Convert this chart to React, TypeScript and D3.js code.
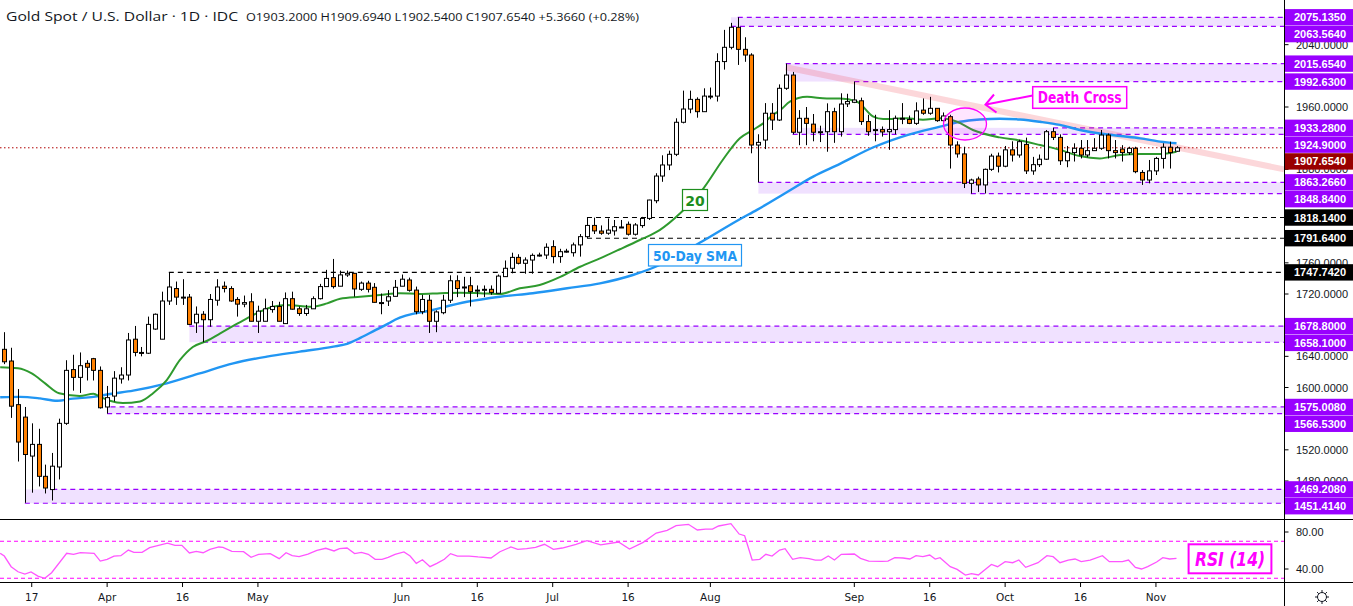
import React from 'react';
import * as d3 from 'd3';

const W = 1353;
const H = 606;
const AXIS_X = 1284.5;
const MAIN_BOTTOM = 519;
const RSI_BOTTOM = 582;

// ---------- OHLC (daily bars, Mar 11 2020 -> Nov 5 2020) ----------
const openP = [1649,1634,1578,1562,1512,1527,1486,1469,1498,1554,1623,1613,1631,1637,1622,1575,1589,1611,1616,1662,1645,1644,1675,1662,1711,1727,1716,1716,1683,1694,1687,1712,1730,1727,1713,1707,1710,1685,1685,1700,1704,1682,1714,1701,1695,1701,1714,1729.5,1741,1730,1744.5,1746.5,1726,1734,1728.6,1709,1711,1717,1730,1738,1725,1697.3,1712,1685,1696,1712,1737,1729,1730.6,1725,1726,1726,1721,1742.3,1753,1767,1759.4,1763.6,1770,1770,1780.8,1768,1775,1773,1783,1793.6,1808,1800.8,1798,1801,1806,1809.5,1796.7,1807.8,1817,1839.7,1871.4,1885.6,1899.3,1940.4,1957.4,1969.8,1954,1974,1974,2018.3,2036.6,2062.3,2034,2026.7,1911.2,1917.6,1952,1943.3,1984,2001,1927.6,1945.5,1938,1928.3,1928.3,1954,1928.3,1964,1966,1968,1941.3,1931,1931,1928.3,1931,1945.5,1944,1939,1956,1952,1958.3,1942.5,1947.6,1911.2,1899.8,1862,1867.6,1860,1880,1897,1884,1905,1898.4,1912,1878,1886,1893,1928.3,1921,1891,1901.5,1907,1898.4,1904,1907,1924,1904,1906,1901.5,1907,1876,1866.3,1878,1894,1908.4,1903.2];
const highP = [1671,1651,1598,1575,1554,1547,1501,1516,1560,1635,1642,1645,1635,1638,1627,1602,1621,1626,1670,1679,1652,1691,1695,1723,1747,1736,1739,1720,1704,1698,1720,1739,1736,1730,1716,1718,1721,1705,1714,1711,1710,1722,1723,1704,1706,1717,1733,1751,1765,1750,1750,1747,1736,1737,1734,1720.6,1725,1738,1745,1741,1729.5,1719,1719,1699,1719,1744,1744,1742,1742,1731,1731,1731,1745,1763,1773,1771,1767,1772,1773,1785,1789,1778,1778,1786,1797,1818,1818,1808,1817,1815,1815,1813,1811,1819,1841,1875,1898,1904,1945.5,1981,1981,1972.4,1984,1985,2029,2059,2068,2075.135,2049.5,2029,1925,1965,1965,1989,2015.654,2005,1956,1960,1951,1936,1964.7,1959,1977.6,1977,1992.63,1972,1950,1950,1935,1956,1949,1965,1949,1966,1971,1973,1958.3,1953,1950,1916,1909,1868,1870.6,1881,1900,1901.5,1910,1916,1918,1920.7,1896,1899,1930.5,1933.28,1924.9,1910,1913.4,1917.6,1917.6,1920,1930.5,1926,1917.6,1911,1909,1909,1879,1892,1896,1913.4,1915.5,1909.694];
const lowP = [1630,1561,1505,1452,1465,1473,1464,1455,1482,1552,1596,1593,1609,1609,1573,1566.53,1582,1605,1609,1640,1640,1643,1674,1662,1706,1706,1706,1680,1670,1658.1,1678,1705,1722,1710,1691,1703,1685,1670,1685,1696,1685,1682,1700,1692,1692,1701,1713,1729.5,1727,1730,1742,1716.5,1724,1722,1709,1694,1704.6,1717,1730,1723,1694,1694,1670,1671,1694,1708.5,1716,1716,1704,1716,1716,1719,1721,1742,1746.5,1758,1746,1746,1768,1765,1759.4,1760,1773,1768,1768,1791.64,1797,1796,1796,1795,1805,1795,1795,1805,1815,1836.5,1864,1879,1897,1939,1952,1946.3,1954,1970,1967,2008,2034,2014,2018,1900.6,1863.266,1906,1930.5,1942,1982,1925,1911,1911,1916,1915,1902.6,1914,1922,1960,1965,1937,1923,1916,1922,1905,1925,1938,1938,1937,1950,1950,1941,1937,1881,1895,1856,1848.84,1851,1849,1878,1876,1882.7,1890,1895,1874,1873,1883,1892,1917.6,1885.6,1882.7,1890,1894,1895.4,1903.6,1905,1894,1894,1890,1898.4,1875,1860,1862,1872.7,1881,1881,1902.54];
const closeP = [1633,1576,1530,1514,1527,1486,1471,1499,1554,1622,1613,1628,1626,1622,1574,1587,1612,1616,1661,1645,1644,1681,1694,1711,1729,1716,1716,1681,1694,1687,1713,1729,1727,1711,1707,1709,1685,1698,1701,1704,1685,1714,1700.5,1695,1701,1714,1729.5,1740,1729.5,1744.5,1746.5,1726.5,1734,1726,1709.3,1709,1716.5,1728.6,1739,1724.7,1697.3,1713,1685,1697,1712,1737,1727,1728,1723,1725,1726,1722,1743,1753,1767,1759.4,1763.6,1769.6,1770,1780,1768,1774.3,1775,1783,1793.6,1808,1801,1798,1802,1806.4,1806,1796.7,1808.6,1817,1840.6,1871.4,1885.6,1899.3,1940.4,1957.4,1969.8,1954,1974,1974,2018.3,2036.6,2062.3,2034,2026.7,1911.2,1914.6,1952,1943.3,1984,2001,1927.6,1945.5,1939,1927.6,1928.3,1954,1928.3,1963.8,1967,1969,1941.3,1928.3,1931,1928,1931,1945.5,1945.5,1939,1955,1952,1958.3,1942.5,1948.5,1911.2,1899.8,1862,1866.3,1860,1880,1897,1884,1905,1898.4,1915.5,1878,1886,1893,1928.3,1921,1891,1901.5,1907,1898.4,1904,1907,1924,1904,1901.5,1901.5,1907,1877,1866.3,1878,1894,1908.4,1901.5,1907.654];

// ---------- moving averages (bar index, value) ----------
const sma20Idx = [-0.6,2,4,6,8,11,13,14,15.4,17.3,19.8,21.7,23.7,25.6,27.5,29.6,31.5,33.4,35.4,37.3,39.2,41.2,43.1,45,47.1,49,51.9,54.8,57.7,60.6,63.6,66.5,69.4,72.3,75.2,78.1,81.1,84,86.9,89.8,92.7,95.6,98.6,102,104.8,107.3,109.2,110.7,112.1,113.2,114.6,117.1,120,121.9,124.4,126.7,128.2,131.7,134,136.5,139,141.3,145.2,148.2,151.1,154,156.9,159.8,162.8,165.7,168.6,171];
const sma20Val = [1626,1624.6,1618,1605,1592.6,1589,1592,1588,1583,1580,1582,1592.6,1609.6,1635,1652,1660,1669.6,1679,1688.8,1697.3,1703.7,1706,1704.6,1703.7,1708,1714,1716.5,1718.7,1721,1720,1721,1721.7,1721,1720,1727.3,1731.6,1742,1755,1765.8,1777.4,1789.3,1802,1823.6,1855.7,1892,1920,1930.5,1939,1949.7,1956,1966.8,1973,1971,1971,1966.8,1948,1944.5,1945.5,1943.5,1945.5,1941,1930.5,1921,1917,1911.2,1905,1897,1894,1898.4,1899.7,1899.7,1902.6];
const sma50Idx = [-0.6,2.3,5.2,7.7,10,13,15.4,18.8,23.7,28.5,33.4,38.3,43.1,48,50,52,54,56,57,62.5,67.5,72.3,77.1,82.1,86.9,91.7,95.6,101.5,107.3,109.8,114.2,118,121.9,126.7,131.7,136.5,139.4,142.3,145.2,148.2,151.1,154,156.9,159.8,162.8,165.7,168.6,171];
const sma50Val = [1587.4,1588,1586,1583,1585.7,1588,1591.7,1596,1605.4,1618,1631,1639.6,1646,1652.4,1656,1664,1673,1682,1687,1699.5,1710,1716.5,1721,1727.3,1733.7,1744.4,1757.2,1786,1816,1828,1851,1870.7,1887,1908,1924,1934.8,1941,1944,1945,1944,1941,1937,1930.5,1926,1922.8,1919.8,1915.5,1913.4];

// ---------- RSI(14) ----------
const rsiIdx = [-0.6,0,1,2,3,3.9,4.9,5.9,6.9,9.1,10.1,11.1,13.1,14,15,16,17,18.1,18.9,20.1,21.2,23.8,24.9,25.9,27,28,29,30,31.3,31.9,33.2,34.9,36,37.1,38.8,40.1,41.1,42,43,44.3,45.6,46.9,48.1,48.9,50,51.1,52.1,53.1,54.1,55.1,56,57,58.3,59.2,60.1,61,62.1,63.1,64.2,65.1,66.1,67.8,69.1,71,72.3,73.9,74.9,76.2,77.5,78.8,80.1,81.4,83.4,85,87,89.6,91.2,93.2,95.1,96.7,98,99.8,101.1,102.3,103.3,104.2,106,107.2,108,109.1,110.2,111.1,112,113.1,113.9,115,116.1,117.4,118.3,119.2,120.2,121.1,122.1,124,124.9,126.1,128,128.9,129.9,131.1,132.1,133,134,135,135.8,136.5,138,139,140.2,141.1,142.1,143,144,144.9,146,147.1,148,149,150.8,152.1,153,154,155.2,156.2,157.1,158.4,160.2,161.2,163.1,164,165,165.9,166.8,168.1,169,170,171];
const rsiVal = [57,54,42.5,37,34.6,36.8,32.4,30,36,57,55.9,57.6,57,48.6,50.5,54,54.4,60.5,58,58,63,68,65.6,65.6,57.3,59,57.6,61.3,63.8,63.4,59,58.7,52.6,55.9,56.6,51.2,57.6,54.4,53.3,56.2,60.2,62.4,59.5,62,62.7,56.6,58,55.9,50.5,50.5,52.6,55.9,58.4,54,46.1,50,42.5,46.1,50.5,56.6,54,54,53,51.9,58.7,63.8,61.3,62,63.4,66.7,61.3,62.7,66.7,70.6,66,69.2,61.6,68.8,78.9,81.8,86.8,88.3,82.2,83.2,83.2,86.5,89,77.8,76,49.7,50.5,55.9,54,60.5,62,50.5,52.2,51.2,49.7,49.7,54,49.7,55.9,56.2,51.5,48.6,48.3,48.6,52.2,51.9,50.8,54.4,53.3,55.1,50.8,52.2,42.5,39.6,33.5,34.9,33.5,38.9,45,42.5,47.9,46.8,49.7,41.8,46.8,54.4,53.3,46.8,49.7,50.8,47.9,49.7,54.4,47.9,47.9,49.7,41.8,40,42.5,47.5,52.2,50.8,51.5];

// ---------- horizontal levels ----------
const zoneTop = [2075.135, 2015.654, 1933.28, 1863.266, 1678.8, 1575.008, 1469.208];
const zoneBottom = [2063.564, 1992.63, 1924.9, 1848.84, 1658.1, 1566.53, 1451.414];
const zoneFillStart = [106, 114, 115, 110, 27, 15, 3];
const zoneTopStart = [107, 114, 153, 110, 27, 15.5, 7];
const zoneBottomStart = [106, 124, 115, 141, 29, 15, 3];
const blackLevels = [1818.14, 1791.64, 1747.742];
const blackStart = [85, 85, 24];
const lastClose = 1907.654;

// trend line (bar index, price)
const trendIdx = [114, 186.7];
const trendVal = [2011, 1880];

// axis ticks
const priceTicks = [1440,1480,1520,1560,1600,1640,1680,1720,1760,1800,1840,1880,1920,1960,2000,2040];
const rsiTicks = [80, 40];
const timeIdx = [4,15,26,37,58,69,80,91,103,124,135,146,157,168];
const timeText = ['17','Apr','16','May','Jun','16','Jul','16','Aug','Sep','16','Oct','16','Nov'];

const FONT = '"DejaVu Sans", Verdana, sans-serif';
const AXFONT = '"Liberation Sans", Arial, sans-serif';
const PURPLE = '#9900ff';
const MAGENTA = '#ff00ff';

export default function App() {
  const x = d3.scaleLinear().domain([0, 171]).range([4.3, 4.3 + 171 * 6.855]);
  const y = d3.scaleLinear().domain([1720, 1960]).range([294, 107]);
  const ry = d3.scaleLinear().domain([40, 80]).range([569, 532]);
  const fmt = d3.format('.4f');

  const sma20Line = d3.line<number>().x((_, i) => x(sma20Idx[i])).y((v) => y(v)).curve(d3.curveMonotoneX)(sma20Val) || '';
  const sma50Line = d3.line<number>().x((_, i) => x(sma50Idx[i])).y((v) => y(v)).curve(d3.curveMonotoneX)(sma50Val) || '';
  const rsiLine = d3.line<number>().x((_, i) => x(rsiIdx[i])).y((v) => ry(v))(rsiVal) || '';

  const bodyW = 4;

  // right-axis labels with overlap avoidance
  type Lab = { v: number; bg: string; yy: number; ly: number };
  const labs: Lab[] = [];
  zoneTop.forEach((v) => labs.push({ v, bg: PURPLE, yy: y(v), ly: 0 }));
  zoneBottom.forEach((v) => labs.push({ v, bg: PURPLE, yy: y(v), ly: 0 }));
  blackLevels.forEach((v) => labs.push({ v, bg: '#000000', yy: y(v), ly: 0 }));
  labs.push({ v: lastClose, bg: '#990000', yy: y(lastClose), ly: 0 });
  labs.sort((a, b) => a.yy - b.yy);
  let prev = -1e9;
  labs.forEach((l) => {
    l.ly = Math.max(l.yy, prev + 16.8);
    prev = l.ly;
  });
  // grid tick labels that are mostly hidden behind a coloured label are not drawn
  const visibleTicks = priceTicks.filter((t) => labs.every((l) => Math.abs(l.ly - y(t)) > 7));

  const tx0 = x(trendIdx[0]);
  const tx1 = x(trendIdx[1]);

  return (
    <div style={{ position: 'absolute', left: 0, top: 0 }}>
      <svg width={W} height={H} style={{ display: 'block', background: '#ffffff' }}>
        <defs>
          <clipPath id="mainClip">
            <rect x={0} y={0} width={AXIS_X} height={MAIN_BOTTOM} />
          </clipPath>
          <clipPath id="rsiClip">
            <rect x={0} y={MAIN_BOTTOM} width={AXIS_X} height={RSI_BOTTOM - MAIN_BOTTOM} />
          </clipPath>
        </defs>
        <rect x={0} y={0} width={W} height={H} fill="#ffffff" />

        <g clipPath="url(#mainClip)">
          {/* zones */}
          {zoneTop.map((t, i) => (
            <g key={'z' + i}>
              <rect x={x(zoneFillStart[i])} y={y(t)} width={AXIS_X - x(zoneFillStart[i])} height={y(zoneBottom[i]) - y(t)} fill="rgba(153,51,255,0.15)" />
              <line x1={x(zoneTopStart[i])} x2={AXIS_X} y1={y(t)} y2={y(t)} stroke={PURPLE} strokeWidth={1.2} strokeDasharray="5,4" />
              <line x1={x(zoneBottomStart[i])} x2={AXIS_X} y1={y(zoneBottom[i])} y2={y(zoneBottom[i])} stroke={PURPLE} strokeWidth={1.2} strokeDasharray="5,4" />
            </g>
          ))}
          {blackLevels.map((v, i) => (
            <line key={'b' + i} x1={x(blackStart[i])} x2={AXIS_X} y1={y(v)} y2={y(v)} stroke="#000" strokeWidth={1.1} strokeDasharray="5,4" />
          ))}
          {/* trend line */}
          <line x1={tx0} y1={y(trendVal[0])} x2={tx1} y2={y(trendVal[1])} stroke="rgba(242,54,69,0.2)" strokeWidth={6} />
          {/* last close dotted */}
          <line x1={0} x2={AXIS_X} y1={y(lastClose)} y2={y(lastClose)} stroke="#b00000" strokeWidth={1} strokeDasharray="1.5,2.5" />

          {/* moving averages */}
          <path d={sma50Line} fill="none" stroke="#2196f3" strokeWidth={2.4} />
          <path d={sma20Line} fill="none" stroke="#2e9a2e" strokeWidth={2} />

          {/* candles */}
          {closeP.map((c, i) => {
            const o = openP[i];
            const up = c >= o;
            const top = y(Math.max(o, c));
            const bot = y(Math.min(o, c));
            const cx = Math.round(x(i)) + 0.5;
            return (
              <g key={'c' + i}>
                <line x1={cx} x2={cx} y1={y(highP[i])} y2={y(lowP[i])} stroke="#000" strokeWidth={1} />
                <rect x={cx - bodyW / 2} y={top} width={bodyW} height={Math.max(1, bot - top)} fill={up ? '#ffffff' : '#ff8000'} stroke="#000" strokeWidth={1} />
              </g>
            );
          })}

          {/* Death cross annotation */}
          <ellipse cx={965} cy={124} rx={21.5} ry={16} fill="rgba(255,0,255,0.1)" stroke={MAGENTA} strokeWidth={1.3} />
          <line x1={1032.7} y1={95.5} x2={986} y2={104.5} stroke={MAGENTA} strokeWidth={2} />
          <polyline points="994,94.5 985.5,104.6 996.5,112.5" fill="none" stroke={MAGENTA} strokeWidth={2} />
          <rect x={1032.7} y={86.7} width={94} height={21.6} fill="#ffffff" stroke={MAGENTA} strokeWidth={1.5} />
          <text x={1079.7} y={103} textAnchor="middle" fontFamily={FONT} fontWeight="bold" fontSize={15} fill={MAGENTA} textLength={84} lengthAdjust="spacingAndGlyphs">Death Cross</text>

          {/* MA labels */}
          <rect x={682.5} y={189.5} width={25} height={21} fill="#ffffff" stroke="#1e8e1e" strokeWidth={1.2} />
          <text x={695} y={206} textAnchor="middle" fontFamily={FONT} fontWeight="bold" fontSize={14} fill="#1e8e1e">20</text>
          <rect x={648.5} y={244.5} width={93} height={21.5} fill="#ffffff" stroke="#2196f3" strokeWidth={1.2} />
          <text x={695} y={260.5} textAnchor="middle" fontFamily={FONT} fontWeight="bold" fontSize={13.5} fill="#2196f3" textLength={84} lengthAdjust="spacingAndGlyphs">50-Day SMA</text>
        </g>

        {/* RSI pane */}
        <g clipPath="url(#rsiClip)">
          <line x1={0} x2={AXIS_X} y1={ry(70)} y2={ry(70)} stroke={MAGENTA} strokeWidth={1} strokeDasharray="4,3" />
          <line x1={0} x2={AXIS_X} y1={ry(30)} y2={ry(30)} stroke={MAGENTA} strokeWidth={1} strokeDasharray="4,3" />
          <path d={rsiLine} fill="none" stroke="#ff55ff" strokeWidth={1.3} />
          <rect x={1188.6} y={544.3} width={82.8} height={29} fill="#ffffff" stroke={MAGENTA} strokeWidth={2} />
          <text x={1230} y={566} textAnchor="middle" fontFamily={FONT} fontWeight="bold" fontStyle="italic" fontSize={19} fill={MAGENTA} textLength={70} lengthAdjust="spacingAndGlyphs">RSI (14)</text>
        </g>

        {/* separators */}
        <line x1={0} x2={W} y1={MAIN_BOTTOM + 0.5} y2={MAIN_BOTTOM + 0.5} stroke="#000" strokeWidth={1} />
        <line x1={0} x2={W} y1={RSI_BOTTOM + 0.5} y2={RSI_BOTTOM + 0.5} stroke="#000" strokeWidth={1} />
        <line x1={AXIS_X} x2={AXIS_X} y1={0} y2={H} stroke="#000" strokeWidth={1} />

        {/* price axis */}
        {priceTicks.map((t) => (
          <line key={'ptl' + t} x1={AXIS_X} x2={AXIS_X + 4} y1={y(t)} y2={y(t)} stroke="#000" />
        ))}
        {visibleTicks.map((t) => (
          <text key={'pt' + t} x={1296} y={y(t) + 4} fontFamily={AXFONT} fontSize={11} fill="#131722">{fmt(t)}</text>
        ))}
        {labs.map((l, i) => (
          <g key={'lab' + i}>
            <rect x={AXIS_X + 0.5} y={l.ly - 8.2} width={W - AXIS_X} height={16.4} fill={l.bg} />
            <text x={1294} y={l.ly + 4} fontFamily={AXFONT} fontWeight="bold" fontSize={11} fill="#ffffff">{fmt(l.v)}</text>
          </g>
        ))}

        {/* RSI axis */}
        {rsiTicks.map((t) => (
          <g key={'rt' + t}>
            <line x1={AXIS_X} x2={AXIS_X + 4} y1={ry(t)} y2={ry(t)} stroke="#000" />
            <text x={1296} y={ry(t) + 4} fontFamily={AXFONT} fontSize={11} fill="#131722">{t.toFixed(2)}</text>
          </g>
        ))}

        {/* time axis */}
        {timeIdx.map((t, i) => (
          <g key={'tt' + i}>
            <line x1={x(t)} x2={x(t)} y1={RSI_BOTTOM + 1} y2={RSI_BOTTOM + 5} stroke="#000" />
            <text x={x(t)} y={601} textAnchor="middle" fontFamily={FONT} fontSize={10.5} fill="#131722">{timeText[i]}</text>
          </g>
        ))}

        {/* settings icon */}
        <g transform="translate(1322,597)" stroke="#131722" fill="none" strokeWidth={1}>
          <circle r={4.5} />
          {d3.range(8).map((k) => {
            const a = (k * Math.PI) / 4;
            return <line key={'ray' + k} x1={Math.cos(a) * 4.5} y1={Math.sin(a) * 4.5} x2={Math.cos(a) * 7} y2={Math.sin(a) * 7} />;
          })}
        </g>

        {/* header */}
        <text x={6} y={21} fontFamily={'"Open Sans", sans-serif'} fontSize={13.5} fill="#131722" textLength={232} lengthAdjust="spacingAndGlyphs">Gold Spot / U.S. Dollar · 1D · IDC</text>
        <text x={246} y={21} fontFamily={'"Open Sans", sans-serif'} fontSize={11.5} fill="#131722" textLength={393} lengthAdjust="spacingAndGlyphs">O1903.2000 H1909.6940 L1902.5400 C1907.6540 +5.3660 (+0.28%)</text>
      </svg>
    </div>
  );
}
